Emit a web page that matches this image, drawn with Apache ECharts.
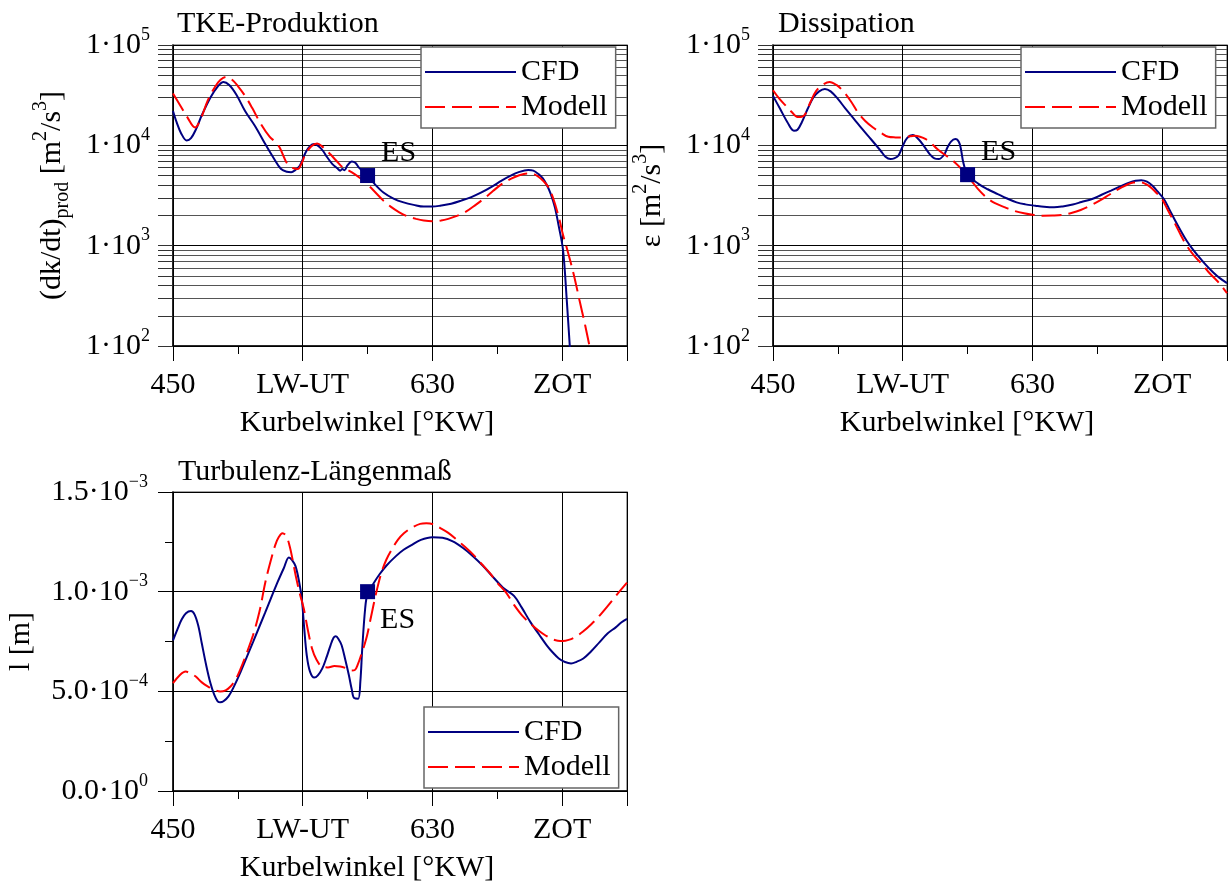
<!DOCTYPE html>
<html>
<head>
<meta charset="utf-8">
<title>TKE-Produktion, Dissipation, Turbulenz-Längenmaß</title>
<script src="https://cdn.jsdelivr.net/npm/echarts@6/dist/echarts.min.js"></script>
<style>
  html, body { margin: 0; padding: 0; background: #fff; }
  #chart { width: 1232px; height: 884px; }
</style>
</head>
<body>
<div id="chart"></div>
<script>
// Crank angle axis: tick positions and their names
const angleTicks = [450, 540, 630, 720];
const angleTickNames = ['450', 'LW-UT', '630', 'ZOT'];

// Log axes: labelled decades
const logTicks = [100, 1000, 10000, 100000];

// Length scale axis: tick values and their mantissa / exponent labels
const lengthTicks = [0, 0.0005, 0.001, 0.0015];
const lengthTickMantissa = ['0.0', '5.0', '1.0', '1.5'];
const lengthTickExponent = ['0', '−4', '−3', '−3'];

// Start of injection (ES) markers [°KW, value]
const esProd = [585, 5000];
const esDiss = [585, 5100];
const esLength = [585, 0.001];

// TKE production (dk/dt)_prod [m²/s³]
const prodCFD = [
  [450, 22000], [452.5, 17000], [455.5, 13300], [459.5, 11200], [462.5, 11800], [466, 14500],
  [470, 20000], [476, 30000], [481, 38500], [485, 42900], [489, 40000], [494, 32000],
  [500, 22000], [507, 15500], [514, 10300], [520, 7400], [525, 5800], [529, 5450],
  [532, 5400], [535, 5700], [538, 6270], [542, 8500], [545, 9800], [548, 10300],
  [551, 9800], [554, 8830], [557, 7600], [560.6, 6500], [564, 5900], [566, 5590],
  [567.5, 5800], [569, 5650], [571, 6300], [574, 6920], [576.5, 6700], [579, 6000],
  [585, 5000], [590, 4100], [596, 3390], [603, 2950], [610, 2700], [617, 2550],
  [624, 2450], [630, 2450], [636, 2510], [643, 2620], [650, 2810], [657, 3050],
  [664, 3390], [671, 3850], [678, 4450], [684, 4950], [689.4, 5370], [696.5, 5680],
  [700, 5600], [703.6, 5170], [706.5, 4700], [709, 4110], [712, 3300], [715, 2400],
  [717.5, 1600], [720.6, 906], [723.2, 288], [725.3, 100], [725.8, 80]
];
const prodModell = [
  [450, 32800], [455, 25000], [460, 19000], [465.3, 15070], [469, 18000], [474, 27700],
  [479, 38000], [483, 45000], [487, 48100], [491, 45000], [495, 39000], [500, 31100],
  [505, 23500], [511, 16300], [517, 12200], [521, 10800], [524, 9530], [527, 7600],
  [529.5, 6500], [533, 5950], [536.6, 5800], [539, 6500], [542, 8190], [546, 9800],
  [550, 10450], [554, 9600], [559, 8190], [563, 7100], [567.7, 6030], [572, 5600],
  [576, 5170], [580, 4700], [584.7, 4110], [590, 3450], [596, 2810], [601, 2450],
  [607, 2150], [612, 1980], [618.7, 1850], [624, 1780], [630, 1750], [636, 1780],
  [641, 1850], [647, 1980], [652.6, 2150], [660, 2550], [666.8, 3030], [672, 3500],
  [678, 4110], [684, 4600], [689.4, 4980], [696.5, 5250], [700, 5200], [703.6, 4860],
  [707, 4400], [710.6, 3800], [714, 2900], [717.7, 1920], [720.5, 1300], [723.6, 906],
  [728, 520], [732, 288], [736, 160], [739, 100], [740, 88]
];

// Dissipation ε [m²/s³]
const dissCFD = [
  [450, 31100], [455, 23000], [460, 17000], [464.5, 14000], [467, 14300], [470, 17000],
  [474, 23000], [478, 30000], [482, 34500], [486, 36500], [490, 34500], [495, 29000],
  [500, 23500], [506, 18500], [512, 14500], [518, 11500], [524.7, 8830], [528, 7700],
  [531.5, 7300], [534, 7400], [537, 7900], [540, 9800], [543, 11800], [547, 12640],
  [551, 11500], [555, 9700], [558.7, 8190], [562, 7400], [565, 7300], [568.7, 8060],
  [571, 9500], [573.5, 10900], [576.5, 11540], [579, 10800], [580.5, 9000], [582, 6800],
  [585, 5100], [592.8, 4110], [599, 3650], [605.9, 3270], [612, 2970], [619, 2700],
  [625, 2580], [632, 2500], [638, 2440], [645, 2410], [651, 2460], [658, 2570],
  [664, 2720], [671.4, 2920], [678, 3220], [684.5, 3540], [691, 3900], [697.6, 4270],
  [701.5, 4430], [705.5, 4500], [709.5, 4350], [713.3, 3960], [717, 3450], [721.2, 2920],
  [725, 2300], [729, 1780], [733, 1400], [737, 1120], [741, 930], [744.8, 795],
  [750, 650], [755.3, 544], [760, 475], [765, 424]
];
const dissModell = [
  [450, 35400], [454.5, 29000], [459, 24700], [463, 21500], [467, 19200], [470, 19300],
  [472.3, 20400], [476, 27000], [480, 34900], [485, 40500], [489.3, 42900], [494, 40000],
  [498.5, 34900], [504, 27500], [509, 21200], [514, 17500], [519.4, 15070], [525, 13300],
  [530, 12160], [535, 12000], [540.4, 11970], [545, 12300], [548.3, 12450], [552, 12200],
  [556, 11540], [560, 10400], [564, 9180], [568, 8300], [571.8, 7580], [576, 6800],
  [579.7, 6030], [583.5, 5100], [587.6, 4450], [592, 3700], [598, 3030], [604, 2650],
  [611, 2410], [617, 2230], [624.2, 2100], [630, 2030], [637.3, 1990], [644, 1995],
  [650.4, 2020], [657, 2120], [663.5, 2270], [670, 2500], [676.6, 2810], [683, 3200],
  [689.7, 3670], [695, 4000], [700.2, 4270], [705.5, 4270], [709.5, 4050], [713.3, 3670],
  [716.5, 3300], [719.9, 2920], [724, 2250], [729, 1650], [733, 1270], [737, 1000],
  [742, 800], [747.4, 659], [752, 550], [757.9, 450], [761, 400], [765, 336]
];

// Turbulent length scale l [m]
const lengthCFD = [
  [450, 7.56e-4], [453, 8.1e-4], [456, 8.6e-4], [459, 8.92e-4], [462.5, 9.03e-4], [465, 8.85e-4],
  [467.5, 8.3e-4], [470, 7.4e-4], [473, 6.32e-4], [476, 5.4e-4], [478.6, 4.83e-4], [481, 4.5e-4],
  [482.8, 4.45e-4], [485, 4.5e-4], [488.5, 4.75e-4], [492, 5.2e-4], [497, 5.99e-4], [505.5, 7.47e-4],
  [514, 8.96e-4], [522.4, 10.45e-4], [527, 11.2e-4], [530.4, 11.72e-4], [532.5, 11.6e-4], [535, 11.28e-4],
  [537.5, 10.5e-4], [539.4, 9.62e-4], [541, 8.2e-4], [542.8, 6.81e-4], [545, 6.0e-4], [548, 5.69e-4],
  [550.5, 5.8e-4], [553.6, 6.15e-4], [556.5, 6.7e-4], [559.3, 7.31e-4], [561.5, 7.7e-4], [563, 7.76e-4],
  [565, 7.6e-4], [567, 7.31e-4], [569.5, 6.6e-4], [572, 5.82e-4], [574, 5.1e-4], [575.7, 4.66e-4],
  [578.5, 4.63e-4], [580, 5.5e-4], [581.3, 7.14e-4], [583.3, 9.13e-4], [585, 9.9e-4], [589, 10.4e-4],
  [593.2, 10.86e-4], [598, 11.3e-4], [604.5, 11.77e-4], [610, 12.1e-4], [615.8, 12.35e-4], [622, 12.6e-4],
  [630, 12.73e-4], [637, 12.7e-4], [644.1, 12.52e-4], [651, 12.2e-4], [658.3, 11.77e-4], [665, 11.3e-4],
  [672.5, 10.7e-4], [679, 10.2e-4], [686.6, 9.79e-4], [692, 9.2e-4], [698, 8.47e-4], [704, 7.85e-4],
  [709.3, 7.31e-4], [713.5, 6.95e-4], [717.7, 6.65e-4], [722, 6.47e-4], [726.2, 6.4e-4], [730, 6.48e-4],
  [734.7, 6.65e-4], [740, 7.0e-4], [746, 7.47e-4], [751.5, 7.9e-4], [757.4, 8.22e-4], [761, 8.45e-4],
  [765, 8.63e-4]
];
const lengthModell = [
  [450, 5.41e-4], [454.5, 5.8e-4], [458.8, 5.99e-4], [462, 5.9e-4], [465.8, 5.74e-4], [470, 5.45e-4],
  [474.3, 5.24e-4], [478.5, 5.08e-4], [482.8, 4.99e-4], [486.5, 5.05e-4], [489.9, 5.24e-4], [493.5, 5.6e-4],
  [497, 6.15e-4], [501, 6.9e-4], [505.5, 7.81e-4], [510, 9.0e-4], [514, 10.45e-4], [518, 11.6e-4],
  [521, 12.35e-4], [523.5, 12.75e-4], [525.9, 12.93e-4], [528.5, 12.8e-4], [531, 12.27e-4], [533, 11.6e-4],
  [535.2, 10.78e-4], [538, 9.9e-4], [540.8, 9.13e-4], [543.5, 8.1e-4], [546.5, 7.14e-4], [549.5, 6.6e-4],
  [553.6, 6.23e-4], [557.5, 6.2e-4], [562, 6.27e-4], [566, 6.25e-4], [570.6, 6.15e-4], [574, 6.05e-4],
  [576.2, 6.07e-4], [578.5, 6.4e-4], [580.5, 6.81e-4], [582.7, 7.3e-4], [584.7, 7.81e-4], [587, 8.6e-4],
  [589, 9.29e-4], [591.5, 10.1e-4], [594.6, 10.95e-4], [598, 11.6e-4], [601.7, 12.1e-4], [606, 12.6e-4],
  [610.2, 12.93e-4], [615.5, 13.2e-4], [621.5, 13.4e-4], [625.8, 13.43e-4], [630.5, 13.38e-4], [635.7, 13.18e-4],
  [641, 12.95e-4], [647, 12.6e-4], [652.5, 12.25e-4], [658.3, 11.86e-4], [664, 11.4e-4], [669.6, 10.95e-4],
  [675, 10.45e-4], [681, 9.96e-4], [686.5, 9.35e-4], [692.3, 8.8e-4], [698, 8.4e-4], [703.6, 8.05e-4],
  [708.5, 7.8e-4], [713.5, 7.61e-4], [717, 7.54e-4], [720.6, 7.52e-4], [724.5, 7.58e-4], [729, 7.72e-4],
  [734.5, 8.0e-4], [740.4, 8.38e-4], [746, 8.8e-4], [751.7, 9.29e-4], [758, 9.85e-4], [765, 10.45e-4]
];

const FONT = '"Liberation Serif", "Times New Roman", serif';
const NAVY = '#000080';
const RED = '#ff0000';
const FS = 30;

// Gridline values for the log axes: 1..9 times every decade
const logGrid = [];
for (let e = 2; e < 5; e++) {
  for (let m = 1; m < 10; m++) logGrid.push(m * Math.pow(10, e));
}
logGrid.push(100000);
const logGridColors = ['#000', '#555', '#555', '#555', '#555', '#555', '#555', '#555', '#555'];

const grids = [
  { left: 173, top: 45, width: 454, height: 301 },
  { left: 773, top: 45, width: 454, height: 301 },
  { left: 173, top: 492, width: 454, height: 302 }
];

const tickRich = {
  m: { fontSize: FS, fontFamily: FONT, color: '#000', lineHeight: 38, verticalAlign: 'middle' },
  e: { fontSize: 18, fontFamily: FONT, color: '#000', lineHeight: 27, verticalAlign: 'top' }
};
const nameRich = {
  n: { fontSize: FS, fontFamily: FONT, color: '#000', lineHeight: 42, verticalAlign: 'middle' },
  sub: { fontSize: 20, fontFamily: FONT, color: '#000', lineHeight: 23, verticalAlign: 'bottom' },
  sup: { fontSize: 20, fontFamily: FONT, color: '#000', lineHeight: 27, verticalAlign: 'top' }
};

function angleAxis(gridIndex) {
  return {
    type: 'value', gridIndex, position: 'bottom', min: 450, max: 765, interval: 90,
    axisLine: { show: true, onZero: false, lineStyle: { color: '#000', width: 1.5 } },
    axisTick: { show: true, inside: false, length: 15, lineStyle: { color: '#000', width: 1 } },
    splitLine: { show: true, lineStyle: { color: '#000', width: 1 } },
    axisLabel: {
      margin: 24, fontSize: FS, fontFamily: FONT, color: '#000',
      formatter: v => { const i = angleTicks.indexOf(Math.round(v)); return i < 0 ? '' : angleTickNames[i]; }
    },
    name: 'Kurbelwinkel [°KW]', nameLocation: 'middle', nameGap: 62,
    // the axis title sits a little left of the axis centre
    nameTextStyle: { fontSize: FS, fontFamily: FONT, color: '#000', padding: [0, 66, 0, 0] }
  };
}
function angleMinorAxis(gridIndex) {
  return {
    type: 'value', gridIndex, position: 'bottom', min: 450, max: 765, interval: 45,
    axisLine: { show: false },
    axisTick: { show: true, inside: false, length: 8, lineStyle: { color: '#000', width: 1 } },
    axisLabel: { show: false }, splitLine: { show: false }
  };
}
function logAxis(gridIndex, nameText, nameGap) {
  return {
    type: 'log', logBase: 10, gridIndex, min: 100, max: 100000,
    axisLine: { show: true, lineStyle: { color: '#000', width: 1.5 } },
    axisTick: { show: true, length: 15, customValues: logGrid, lineStyle: { color: '#333', width: 1 } },
    splitLine: { show: true, lineStyle: { color: logGridColors, width: 1 } },
    axisLabel: {
      customValues: logTicks, margin: 23,
      formatter: v => '{m|1·10}{e|' + Math.round(Math.log10(v)) + '}',
      rich: tickRich
    },
    name: nameText, nameLocation: 'middle', nameGap, nameRotate: 90,
    nameTextStyle: { rich: nameRich }
  };
}

const lineBase = { type: 'line', symbol: 'none', smooth: 0.35, clip: true, z: 3 };
function cfd(data, i) {
  return Object.assign({}, lineBase, { name: 'CFD', data, xAxisIndex: i * 2, yAxisIndex: i,
    lineStyle: { color: NAVY, width: 2 }, itemStyle: { color: NAVY } });
}
function modell(data, i) {
  return Object.assign({}, lineBase, { name: 'Modell', data, xAxisIndex: i * 2, yAxisIndex: i,
    lineStyle: { color: RED, width: 2, type: [20, 7] }, itemStyle: { color: RED } });
}
function esMark(point, i, labelPos) {
  return {
    type: 'scatter', name: 'ES', data: [point], xAxisIndex: i * 2, yAxisIndex: i,
    symbol: 'rect', symbolSize: 15, itemStyle: { color: NAVY, opacity: 1 }, z: 6,
    label: { show: true, formatter: 'ES', position: labelPos, align: 'left', verticalAlign: 'middle',
      fontSize: FS, fontFamily: FONT, color: '#000', opacity: 1 }
  };
}
function legendAt(left, top) {
  return {
    data: ['CFD', 'Modell'], orient: 'vertical', left, top,
    itemWidth: 91, itemHeight: 14, itemGap: 5,
    padding: [10, 8, 6, 3],
    backgroundColor: '#fff', borderColor: '#666', borderWidth: 1.5,
    itemStyle: { color: 'rgba(0,0,0,0)', borderWidth: 0, opacity: 0 },
    textStyle: { fontSize: FS, fontFamily: FONT, color: '#000' },
    selectedMode: false
  };
}

const titleStyle = { fontSize: FS, fontWeight: 'normal', fontFamily: FONT, color: '#000' };

const chart = echarts.init(document.getElementById('chart'));
chart.setOption({
  animation: false,
  backgroundColor: '#fff',
  textStyle: { fontFamily: FONT },
  title: [
    { text: 'TKE-Produktion', left: 177, top: 9, padding: 0, textStyle: titleStyle },
    { text: 'Dissipation', left: 778, top: 9, padding: 0, textStyle: titleStyle },
    { text: 'Turbulenz-Längenmaß', left: 178, top: 457, padding: 0, textStyle: titleStyle }
  ],
  legend: [legendAt(421, 47), legendAt(1021, 47), legendAt(424, 707)],
  grid: grids.map(g => Object.assign({ show: true, borderColor: '#888', borderWidth: 1.5, backgroundColor: 'transparent' }, g)),
  xAxis: [angleAxis(0), angleMinorAxis(0), angleAxis(1), angleMinorAxis(1), angleAxis(2), angleMinorAxis(2)],
  yAxis: [
    logAxis(0, '{n|(dk/dt)}{sub|prod}{n| [m}{sup|2}{n|/s}{sup|3}{n|]}', 100),
    logAxis(1, '{n|ε [m}{sup|2}{n|/s}{sup|3}{n|]}', 100),
    {
      type: 'value', gridIndex: 2, min: 0, max: 0.0015, interval: 0.0005,
      axisLine: { show: true, lineStyle: { color: '#000', width: 1.5 } },
      axisTick: { show: true, length: 15, lineStyle: { color: '#000', width: 1 } },
      minorTick: { show: true, splitNumber: 2, length: 8, lineStyle: { color: '#000', width: 1 } },
      splitLine: { show: true, lineStyle: { color: '#000', width: 1 } },
      axisLabel: {
        margin: 25, rich: tickRich,
        formatter: v => {
          const i = lengthTicks.findIndex(t => Math.abs(t - v) < 1e-9);
          return i < 0 ? '' : '{m|' + lengthTickMantissa[i] + '·10}{e|' + lengthTickExponent[i] + '}';
        }
      },
      name: '{n|l [m]}', nameLocation: 'middle', nameGap: 131, nameRotate: 90,
      nameTextStyle: { rich: nameRich }
    }
  ],
  series: [
    cfd(prodCFD, 0), modell(prodModell, 0), esMark(esProd, 0, [21, -15]),
    cfd(dissCFD, 1), modell(dissModell, 1), esMark(esDiss, 1, [21, -15]),
    cfd(lengthCFD, 2), modell(lengthModell, 2), esMark(esLength, 2, [20, 36])
  ]
});
</script>
</body>
</html>
